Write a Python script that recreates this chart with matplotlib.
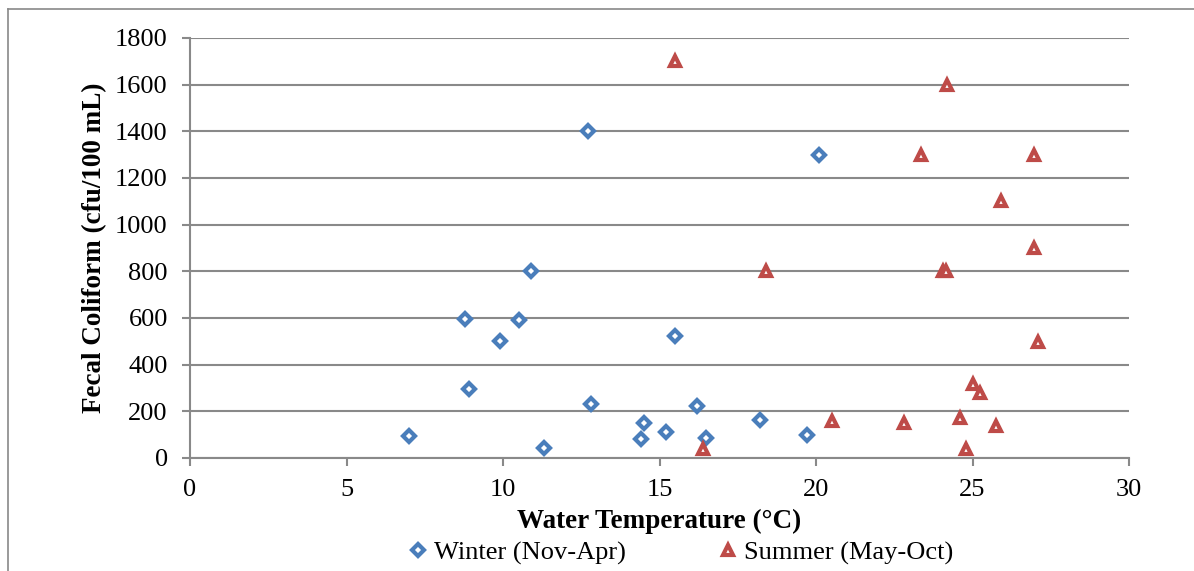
import matplotlib
matplotlib.use("Agg")
import matplotlib.pyplot as plt
from matplotlib.lines import Line2D

# Winter samples (Nov-Apr)
winter_temp = [7.0, 8.8, 8.9, 9.9, 10.5, 10.9, 11.3, 12.7, 12.8, 14.5, 14.4,
               15.2, 15.5, 16.2, 16.5, 18.2, 19.7, 20.1]
winter_fc = [93, 595, 297, 500, 593, 800, 42, 1400, 230, 152, 80,
             110, 525, 223, 87, 163, 100, 1300]

# Summer samples (May-Oct)
summer_temp = [15.5, 16.4, 18.4, 20.5, 22.8, 23.35, 24.2, 24.05, 24.15, 24.6,
               24.8, 25.0, 25.25, 25.75, 25.9, 26.97, 26.97, 27.1]
summer_fc = [1700, 40, 800, 158, 149, 1300, 1600, 800, 800, 172,
             40, 316, 279, 137, 1100, 1300, 900, 497]

x_ticks = [0, 5, 10, 15, 20, 25, 30]
y_ticks = [0, 200, 400, 600, 800, 1000, 1200, 1400, 1600, 1800]

BLUE = "#4A7EBB"
RED = "#BE4B48"
GRAY = "#898989"

plt.rcParams["font.family"] = ["Liberation Serif", "DejaVu Serif"]

W, H = 1194, 571
fig = plt.figure(figsize=(W / 100, H / 100), dpi=100)
ax = fig.add_axes([190 / W, 1 - 458 / H, (1129 - 190) / W, (458 - 38) / H])

ax.plot(winter_temp, winter_fc, linestyle="none", marker="D", markersize=6,
        markerfacecolor="white", markeredgecolor=BLUE, markeredgewidth=3,
        label="Winter (Nov-Apr)", clip_on=False)
ax.plot(summer_temp, summer_fc, linestyle="none", marker="^", markersize=7.5,
        markerfacecolor="white", markeredgecolor=RED, markeredgewidth=3,
        label="Summer (May-Oct)", clip_on=False)

ax.set_xlim(0, 30)
ax.set_ylim(0, 1800)
ax.set_xticks(x_ticks)
ax.set_yticks(y_ticks)
ax.grid(axis="y", color=GRAY, linewidth=1.5)
ax.set_axisbelow(True)

for side in ["top", "right"]:
    ax.spines[side].set_visible(False)
for side in ["left", "bottom"]:
    ax.spines[side].set_color(GRAY)
    ax.spines[side].set_linewidth(1.5)

ax.tick_params(axis="both", colors=GRAY, labelcolor="black", labelsize=19,
               width=1.5, length=6)
ax.tick_params(axis="y", pad=10)
ax.tick_params(axis="x", pad=9)

ax.set_xlabel("Water Temperature (°C)", fontsize=19.5, fontweight="bold", labelpad=6)
ax.set_ylabel("Fecal Coliform (cfu/100 mL)", fontsize=19.5, fontweight="bold", labelpad=6)

fig.legend(loc="center", bbox_to_anchor=(679 / W, 1 - 553 / H), ncol=2,
           frameon=False, fontsize=19, columnspacing=3.35, handletextpad=0.1,
           handlelength=1.0, borderpad=0)

# frame around the chart area
fig.add_artist(Line2D([8 / W, 8 / W], [0, 1 - 9 / H], color=GRAY, linewidth=1.2))
fig.add_artist(Line2D([8 / W, 1], [1 - 9 / H, 1 - 9 / H], color=GRAY, linewidth=1.2))

fig.savefig("out.png", dpi=100)
